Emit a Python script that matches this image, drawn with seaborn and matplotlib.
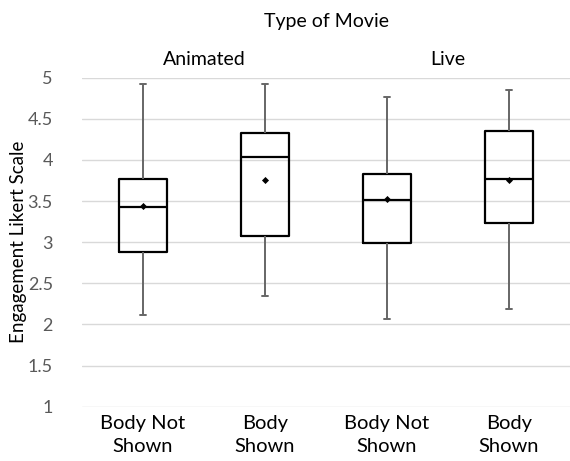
import numpy as np
import pandas as pd
import seaborn as sns
import matplotlib.pyplot as plt

# Five-number summaries per condition (min, Q1, median, Q3, max) and means
movie_types = ["Animated", "Animated", "Live", "Live"]
body_views = ["Body Not Shown", "Body Shown", "Body Not Shown", "Body Shown"]
tick_labels = ["Body Not\nShown", "Body\nShown", "Body Not\nShown", "Body\nShown"]
minimums = [2.12, 2.35, 2.07, 2.19]
q1s = [2.88, 3.08, 2.99, 3.23]
medians = [3.43, 4.04, 3.51, 3.77]
q3s = [3.77, 4.33, 3.83, 4.35]
maximums = [4.92, 4.92, 4.77, 4.85]
means = [3.44, 3.76, 3.53, 3.76]
y_ticks = [1, 1.5, 2, 2.5, 3, 3.5, 4, 4.5, 5]

conds = [f"{m} | {b}" for m, b in zip(movie_types, body_views)]
rows = []
for c, lo, a, md, b, hi in zip(conds, minimums, q1s, medians, q3s, maximums):
    for v in (lo, a, md, b, hi):
        rows.append({"cond": c, "score": v})
df = pd.DataFrame(rows)
mean_df = pd.DataFrame({"cond": conds, "score": means})

sns.set_theme(style="white")
plt.rcParams["font.family"] = ["Lato", "DejaVu Sans"]

fig = plt.figure(figsize=(5.70, 4.61), dpi=100)
ax = fig.add_axes([82 / 570, 1 - 406.7 / 461, 488 / 570, (406.7 - 77.7) / 461])

sns.boxplot(
    data=df, x="cond", y="score", order=conds, ax=ax, color="black",
    whis=(0, 100), width=0.39, fill=False, linewidth=1.6,
    boxprops=dict(color="black", linewidth=1.6),
    whiskerprops=dict(color="#666666", linewidth=1.4),
    capprops=dict(color="#666666", linewidth=1.4),
    medianprops=dict(color="black", linewidth=1.6),
    capwidths=0.05,
)
sns.stripplot(
    data=mean_df, x="cond", y="score", order=conds, ax=ax,
    jitter=False, marker="D", size=3.6, color="black", linewidth=0, zorder=5,
)

ax.set_ylim(1, 5)
ax.set_xlim(-0.5, 3.5)
ax.set_yticks(y_ticks)
ax.set_yticklabels([f"{t:g}" for t in y_ticks])
ax.set_xticks(range(len(conds)))
ax.set_xticklabels(tick_labels, fontsize=14.5, color="black", linespacing=1.45)
ax.tick_params(axis="y", labelsize=13, labelcolor="#595959", length=0, pad=21)
ax.tick_params(axis="x", length=0, pad=6)
ax.yaxis.grid(True, color="#d9d9d9", linewidth=1.0)
ax.set_axisbelow(True)
for s in ax.spines.values():
    s.set_visible(False)
ax.set_xlabel("")
ax.set_ylabel("Engagement Likert Scale", fontsize=13.5, color="black", va="center")
ax.yaxis.set_label_coords((19 - 82) / 488, 0.5)

# Group headings above the boxes
group_names = ["Animated", "Live"]
for i, g in enumerate(group_names):
    ax.text(2 * i + 0.5, 1.03, g, transform=ax.get_xaxis_transform(),
            ha="center", va="bottom", fontsize=14, color="black")
fig.text((82 + 570) / 2 / 570, 1 - 22 / 461, "Type of Movie",
         ha="center", va="center", fontsize=14, color="black")

fig.savefig("out.png", dpi=100, facecolor="white")
